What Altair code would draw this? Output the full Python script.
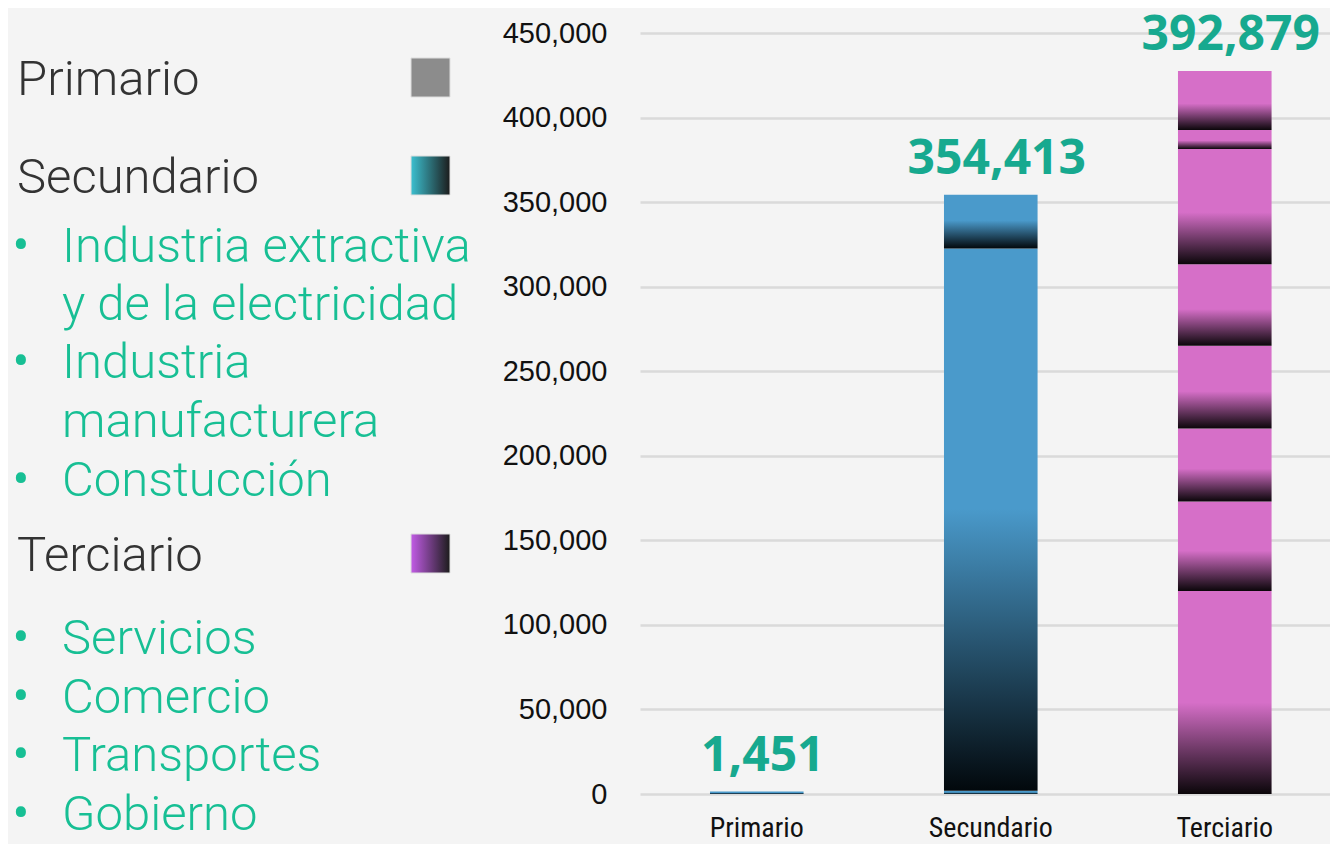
import altair as alt
import pandas as pd

# ---------------- data ----------------
sectores = ["Primario", "Secundario", "Terciario"]
totales_etiqueta = [1451, 354413, 392879]

seg_sector = ["Primario", "Secundario", "Secundario", "Secundario",
              "Terciario", "Terciario", "Terciario", "Terciario",
              "Terciario", "Terciario", "Terciario", "Terciario"]
seg_orden = [1, 1, 2, 3, 1, 2, 3, 4, 5, 6, 7, 8]
seg_valor = [1451, 1900, 320700, 31813,
             120000, 53000, 43100, 48900, 48300, 68100, 11200, 34900]

y_ticks = [0, 50000, 100000, 150000, 200000, 250000, 300000, 350000, 400000, 450000]

leyenda_sectores = ["Primario", "Secundario", "Terciario"]
leyenda_items = ["Industria extractiva", "y de la electricidad", "Industria",
                 "manufacturera", "Constucción", "Servicios", "Comercio",
                 "Transportes", "Gobierno"]
leyenda_vineta = [True, False, True, False, True, True, True, True, True]

# ---------------- layout (pixels, relative to plot top-left) ----------------
PADL = 632
OFF = 8 + PADL  # page x of plot left
sect_y = [62, 160, 538]
item_y = [229, 287, 345, 404, 463, 621, 680, 738, 797]
swatch_top = [25, 123, 501]
SW = 39

df_seg = pd.DataFrame({"sector": seg_sector, "orden": seg_orden, "valor": seg_valor})
tope = df_seg.groupby("sector")["valor"].sum()
df_lab = pd.DataFrame({"sector": sectores,
                       "tope": [tope[s] for s in sectores],
                       "etiqueta": totales_etiqueta})
df_leg_s = pd.DataFrame({"texto": leyenda_sectores, "py": sect_y})
df_leg_i = pd.DataFrame({"texto": leyenda_items, "py": item_y, "vin": leyenda_vineta})
df_bul = df_leg_i[df_leg_i["vin"]].copy()
df_bul["texto"] = "•"

BG = "#f4f4f4"
BLUE = "#4a9acb"
PINK = "#d66fc8"
TEAL = "#17a98f"
GREEN = "#17bf94"


def vgrad(c, start, end):
    return alt.LinearGradient(
        gradient="linear", x1=0, y1=0, x2=0, y2=1,
        stops=[alt.GradientStop(color=c, offset=0),
               alt.GradientStop(color=c, offset=start),
               alt.GradientStop(color=end, offset=1)])


def hgrad(c1, c2):
    return alt.LinearGradient(
        gradient="linear", x1=0, y1=0, x2=1, y2=0,
        stops=[alt.GradientStop(color=c1, offset=0),
               alt.GradientStop(color=c2, offset=1)])


x_enc = alt.X("sector:N", sort=sectores,
              scale=alt.Scale(domain=sectores, paddingInner=0.6, paddingOuter=0.2744, align=0.545),
              axis=alt.Axis(title=None, labelAngle=0, ticks=False, domain=False, grid=False,
                            labelFont="'Roboto Condensed', 'Liberation Sans Narrow', 'DejaVu Sans Condensed', sans-serif",
                            labelFontSize=28, labelColor="#111111", labelBaseline="alphabetic",
                            labelPadding=42))
y_enc = alt.Y("valor:Q", stack="zero",
              scale=alt.Scale(domain=[0, 450000], nice=False),
              axis=alt.Axis(title=None, values=y_ticks, format=",.0f", ticks=False, domain=False,
                            labelFont="Liberation Sans", labelFontSize=29, labelColor="#111111",
                            labelPadding=33, gridColor="#dadada", gridWidth=2.5))


def bar_layer(secs, grad):
    return (alt.Chart(df_seg)
            .transform_filter(alt.FieldOneOfPredicate(field="sector", oneOf=secs))
            .mark_bar(color=grad)
            .encode(x=x_enc, y=y_enc, detail="orden:N",
                    order=alt.Order("orden:Q", sort="ascending")))


bars_blue = bar_layer(["Primario", "Secundario"], vgrad(BLUE, 0.48, "#02080c"))
bars_pink = bar_layer(["Terciario"], vgrad(PINK, 0.55, "#0b060a"))

labels = alt.Chart(df_lab).mark_text(
    font="Open Sans", fontWeight="bold", fontSize=48, color=TEAL,
    baseline="alphabetic", dy=-21, dx=6
).encode(x=alt.X("sector:N", sort=sectores), y=alt.Y("tope:Q"),
         text=alt.Text("etiqueta:Q", format=","))

leg_sect = alt.Chart(df_leg_s).mark_text(
    font="Roboto", fontWeight=300, fontSize=49, color="#333333", align="left", baseline="alphabetic"
).encode(x=alt.value(17 - OFF), y=alt.Y("py:Q", scale=None, axis=None), text="texto:N")

leg_items = alt.Chart(df_leg_i).mark_text(
    font="Roboto", fontWeight=300, fontSize=49, color=GREEN, align="left", baseline="alphabetic"
).encode(x=alt.value(62 - OFF), y=alt.Y("py:Q", scale=None, axis=None), text="texto:N")

leg_bul = alt.Chart(df_bul).mark_text(
    font="Roboto", fontSize=50, color=GREEN, align="center", baseline="alphabetic"
).encode(x=alt.value(21 - OFF), y=alt.Y("py:Q", scale=None, axis=None), text="texto:N")

one = pd.DataFrame({"k": [0]})


def swatch(top, fill):
    return alt.Chart(one).mark_rect(color=fill, stroke="#dddddd", strokeWidth=1).encode(
        x=alt.value(411 - OFF), x2=alt.value(411 - OFF + SW), y=alt.value(top), y2=alt.value(top + SW))


sw1 = swatch(swatch_top[0], "#8c8c8c")
sw2 = swatch(swatch_top[1], hgrad("#3cc0d0", "#1c1c1c"))
sw3 = swatch(swatch_top[2], hgrad("#c25ce6", "#1c1c1c"))

chart = alt.layer(
    bars_blue, bars_pink, labels, leg_sect, leg_items, leg_bul, sw1, sw2, sw3
).properties(
    width=690, height=761,
    autosize=alt.AutoSizeParams(type="none"),
    padding={"left": PADL, "top": 25, "right": 0, "bottom": 50},
    background=BG
).configure_view(stroke=None)

chart.save("out.html", embed_options={"renderer": "svg", "actions": False})
